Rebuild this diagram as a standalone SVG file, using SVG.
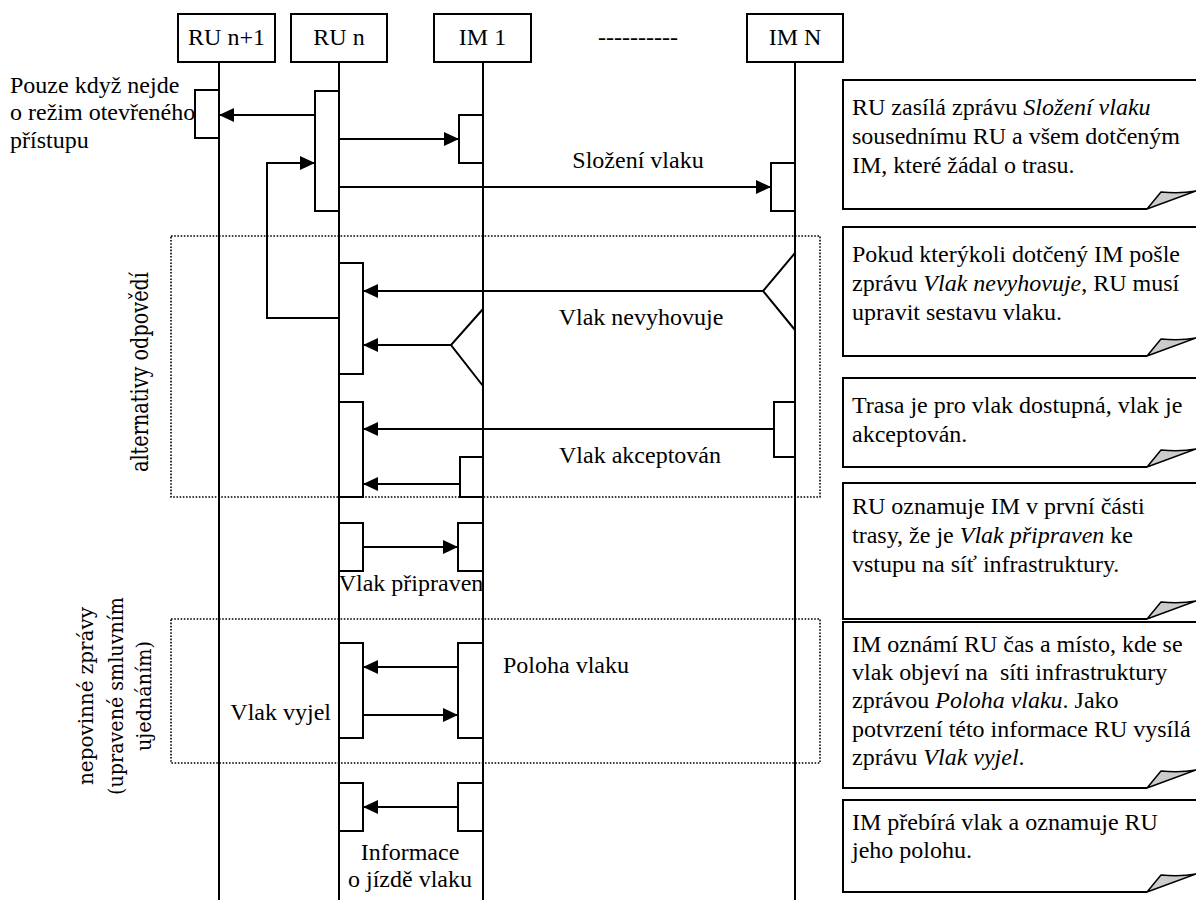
<svg xmlns="http://www.w3.org/2000/svg" width="1196" height="900" viewBox="0 0 1196 900">
<style>
text{font-family:"Liberation Serif","Times New Roman",serif;font-size:24px;fill:#000}
.c{text-anchor:middle}
.e{text-anchor:end}
.r{font-family:"DejaVu Serif","Liberation Serif",serif;font-size:20px;text-anchor:middle}
.r1{font-size:25px}
.hd{fill:#fff;stroke:#000;stroke-width:2}
.life{stroke:#000;stroke-width:2;fill:none}
.act{fill:#fff;stroke:#000;stroke-width:2}
.msg{stroke:#000;stroke-width:2;fill:none}
.arr{marker-end:url(#ah)}
.dot{fill:none;stroke:#000;stroke-width:1.6;stroke-dasharray:1.6 1.6}
.note{fill:#fff;stroke:#000;stroke-width:2}
.fold{fill:#ccc;stroke:#000;stroke-width:1.5;stroke-linejoin:round}
</style>
<defs>
<marker id="ah" markerUnits="userSpaceOnUse" markerWidth="16" markerHeight="14" refX="15" refY="7" orient="auto">
<path d="M0,0 L15,7 L0,14 z" fill="#000"/>
</marker>
</defs>
<rect width="1196" height="900" fill="#fff"/>

<g id="frames">
<rect class="dot" x="171" y="236" width="649" height="261"/>
<rect class="dot" x="171" y="619" width="649" height="144"/>
<text class="r r1" transform="translate(148,372) rotate(-90)" textLength="200" lengthAdjust="spacingAndGlyphs">alternativy odpovědí</text>
<text class="r" transform="translate(93,696) rotate(-90)" textLength="178" lengthAdjust="spacingAndGlyphs">nepovinné zprávy</text>
<text class="r" transform="translate(123,696) rotate(-90)" textLength="198" lengthAdjust="spacingAndGlyphs">(upravené smluvním</text>
<text class="r" transform="translate(151,696) rotate(-90)" textLength="110" lengthAdjust="spacingAndGlyphs">ujednáním)</text>
</g>

<g id="ru_n1">
<rect class="hd" x="178" y="14" width="97" height="48"/>
<text class="c" x="226.5" y="45">RU n+1</text>
<line class="life" x1="219" y1="62" x2="219" y2="900"/>
</g>
<g id="ru_n">
<rect class="hd" x="291" y="14" width="96" height="48"/>
<text class="c" x="339" y="45">RU n</text>
<line class="life" x1="339" y1="62" x2="339" y2="900"/>
</g>
<g id="im_1">
<rect class="hd" x="434" y="14" width="97" height="48"/>
<text class="c" x="482.5" y="45">IM 1</text>
<line class="life" x1="483" y1="62" x2="483" y2="900"/>
</g>
<g id="dots">
<text class="c" x="638" y="45">----------</text>
</g>
<g id="im_n">
<rect class="hd" x="747" y="14" width="96" height="48"/>
<text class="c" x="795" y="45">IM N</text>
<line class="life" x1="795" y1="62" x2="795" y2="900"/>
</g>

<g id="activations">
<rect class="act" x="195" y="90" width="24" height="48"/>
<rect class="act" x="315" y="91" width="24" height="120"/>
<rect class="act" x="459" y="115" width="24" height="48"/>
<rect class="act" x="771" y="163" width="24" height="48"/>
<rect class="act" x="339" y="263" width="24" height="111"/>
<rect class="act" x="339" y="402" width="24" height="95"/>
<rect class="act" x="774" y="402" width="21" height="55"/>
<rect class="act" x="460" y="457" width="23" height="40"/>
<rect class="act" x="339" y="523" width="24" height="48"/>
<rect class="act" x="458" y="523" width="25" height="48"/>
<rect class="act" x="339" y="643" width="24" height="95"/>
<rect class="act" x="458" y="643" width="25" height="95"/>
<rect class="act" x="339" y="783" width="24" height="48"/>
<rect class="act" x="458" y="783" width="25" height="48"/>
</g>

<g id="connectors">
<line class="msg arr" x1="315" y1="115" x2="219" y2="115"/>
<line class="msg arr" x1="339" y1="139" x2="459" y2="139"/>
<line class="msg arr" x1="339" y1="187" x2="771" y2="187"/>
<polyline class="msg arr" points="339,318 267,318 267,163 315,163"/>
<polyline class="msg" points="795,253 763,291 795,330"/>
<line class="msg arr" x1="763" y1="291" x2="363" y2="291"/>
<polyline class="msg" points="483,309 451,345 483,386"/>
<line class="msg arr" x1="451" y1="345" x2="363" y2="345"/>
<line class="msg arr" x1="774" y1="429" x2="363" y2="429"/>
<line class="msg arr" x1="460" y1="484" x2="363" y2="484"/>
<line class="msg arr" x1="363" y1="547" x2="458" y2="547"/>
<line class="msg arr" x1="458" y1="667" x2="363" y2="667"/>
<line class="msg arr" x1="363" y1="715" x2="458" y2="715"/>
<line class="msg arr" x1="458" y1="807" x2="363" y2="807"/>
</g>

<g id="labels">
<text x="10" y="93">Pouze když nejde</text>
<text x="10" y="120">o režim otevřeného</text>
<text x="10" y="148">přístupu</text>
<text class="c" x="638" y="168">Složení vlaku</text>
<text class="c" x="641" y="325">Vlak nevyhovuje</text>
<text class="c" x="640" y="463">Vlak akceptován</text>
<text class="c" x="411" y="591">Vlak připraven</text>
<text x="503" y="673">Poloha vlaku</text>
<text class="e" x="331" y="720">Vlak vyjel</text>
<text class="c" x="410" y="860">Informace</text>
<text class="c" x="410" y="887">o jízdě vlaku</text>
</g>

<g id="note1">
<path class="note" d="M1196,80 H843 V209 H1147"/>
<path class="fold" d="M1147,209 L1161,192 Q1180,194 1196,191 Z"/>
<text x="852" y="115">RU zasílá zprávu <tspan font-style="italic">Složení vlaku</tspan></text>
<text x="852" y="144">sousednímu RU a všem dotčeným</text>
<text x="852" y="173">IM, které žádal o trasu.</text>
</g>
<g id="note2">
<path class="note" d="M1196,227 H843 V356 H1147"/>
<path class="fold" d="M1147,356 L1161,339 Q1180,341 1196,338 Z"/>
<text x="852" y="262">Pokud kterýkoli dotčený IM pošle</text>
<text x="852" y="291">zprávu <tspan font-style="italic">Vlak nevyhovuje</tspan>, RU musí</text>
<text x="852" y="320">upravit sestavu vlaku.</text>
</g>
<g id="note3">
<path class="note" d="M1196,378 H843 V467 H1147"/>
<path class="fold" d="M1147,467 L1161,450 Q1180,452 1196,449 Z"/>
<text x="852" y="413">Trasa je pro vlak dostupná, vlak je</text>
<text x="852" y="442">akceptován.</text>
</g>
<g id="note4">
<path class="note" d="M1196,483 H843 V619 H1147"/>
<path class="fold" d="M1147,619 L1161,602 Q1180,604 1196,601 Z"/>
<text x="852" y="514">RU oznamuje IM v první části</text>
<text x="852" y="543">trasy, že je <tspan font-style="italic">Vlak připraven</tspan> ke</text>
<text x="852" y="572">vstupu na síť infrastruktury.</text>
</g>
<g id="note5">
<path class="note" d="M1196,622 H843 V788 H1147"/>
<path class="fold" d="M1147,788 L1161,771 Q1180,773 1196,770 Z"/>
<text x="852" y="652">IM oznámí RU čas a místo, kde se</text>
<text x="852" y="680" xml:space="preserve">vlak objeví na  síti infrastruktury</text>
<text x="852" y="708">zprávou <tspan font-style="italic">Poloha vlaku</tspan>. Jako</text>
<text x="852" y="737">potvrzení této informace RU vysílá</text>
<text x="852" y="765">zprávu <tspan font-style="italic">Vlak vyjel</tspan>.</text>
</g>
<g id="note6">
<path class="note" d="M1196,800 H843 V892 H1147"/>
<path class="fold" d="M1147,892 L1161,875 Q1180,877 1196,874 Z"/>
<text x="852" y="830">IM přebírá vlak a oznamuje RU</text>
<text x="852" y="858">jeho polohu.</text>
</g>
</svg>
